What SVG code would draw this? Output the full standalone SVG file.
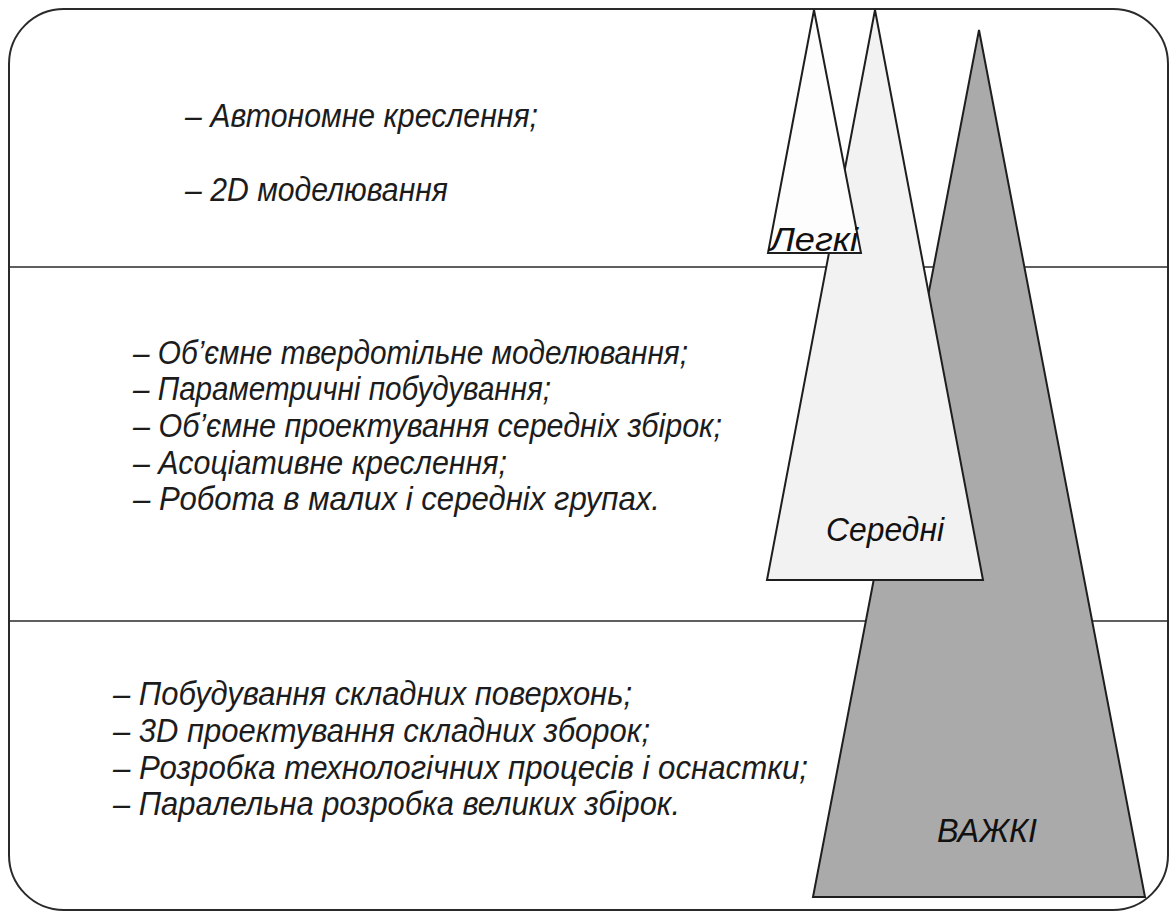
<svg xmlns="http://www.w3.org/2000/svg" width="1170" height="912" viewBox="0 0 1170 912">
  <style>
    .frame { fill: #ffffff; stroke: #2a2a2a; stroke-width: 2; }
    .divider { stroke: #2a2a2a; stroke-width: 1.6; fill: none; }
    .tri { stroke: #1e1e1e; stroke-width: 2; stroke-linejoin: miter; }
    .t { font-family: "Liberation Sans", "DejaVu Sans", sans-serif; font-style: italic; font-size: 33px; fill: #1c1c1c; }
    .lbl { font-family: "Liberation Sans", "DejaVu Sans", sans-serif; font-style: italic; font-size: 34px; fill: #111111; }
  </style>

  <!-- outer frame -->
  <rect class="frame" x="9" y="9" width="1159" height="901" rx="55" ry="55"/>

  <!-- section dividers (run behind the pyramids) -->
  <g id="dividers">
    <line class="divider" x1="9" y1="267" x2="1168" y2="267"/>
    <line class="divider" x1="9" y1="621" x2="1168" y2="621"/>
  </g>

  <!-- heavy systems -->
  <g id="heavy">
    <polygon class="tri" fill="#aaaaaa" points="979,30 1145,897 813,897"/>
    <text class="lbl" x="937" y="842" textLength="100" lengthAdjust="spacingAndGlyphs">ВАЖКІ</text>
  </g>

  <!-- medium systems -->
  <g id="medium">
    <polygon class="tri" fill="#f2f2f2" points="875,10 983,580 767,580"/>
    <text class="lbl" x="826" y="541" textLength="118" lengthAdjust="spacingAndGlyphs">Середні</text>
  </g>

  <!-- light systems -->
  <g id="light">
    <polygon class="tri" fill="#fdfdfd" points="814,10 861,253 768,253"/>
    <text class="lbl" x="770" y="251" textLength="88" lengthAdjust="spacingAndGlyphs">Легкі</text>
  </g>

  <!-- feature lists -->
  <g id="light-features">
    <text class="t" x="185" y="127" textLength="353" lengthAdjust="spacingAndGlyphs">– Автономне креслення;</text>
    <text class="t" x="185" y="201" textLength="263" lengthAdjust="spacingAndGlyphs">– 2D моделювання</text>
  </g>

  <g id="medium-features">
    <text class="t" x="133" y="364" textLength="555" lengthAdjust="spacingAndGlyphs">– Об’ємне твердотільне моделювання;</text>
    <text class="t" x="133" y="400" textLength="418" lengthAdjust="spacingAndGlyphs">– Параметричні побудування;</text>
    <text class="t" x="133" y="437" textLength="589" lengthAdjust="spacingAndGlyphs">– Об’ємне проектування середніх збірок;</text>
    <text class="t" x="133" y="474" textLength="374" lengthAdjust="spacingAndGlyphs">– Асоціативне креслення;</text>
    <text class="t" x="133" y="510" textLength="527" lengthAdjust="spacingAndGlyphs">– Робота в малих і середніх групах.</text>
  </g>

  <g id="heavy-features">
    <text class="t" x="113" y="705" textLength="519" lengthAdjust="spacingAndGlyphs">– Побудування складних поверхонь;</text>
    <text class="t" x="113" y="742" textLength="537" lengthAdjust="spacingAndGlyphs">– 3D проектування складних зборок;</text>
    <text class="t" x="113" y="779" textLength="695" lengthAdjust="spacingAndGlyphs">– Розробка технологічних процесів і оснастки;</text>
    <text class="t" x="113" y="815" textLength="567" lengthAdjust="spacingAndGlyphs">– Паралельна розробка великих збірок.</text>
  </g>
</svg>
